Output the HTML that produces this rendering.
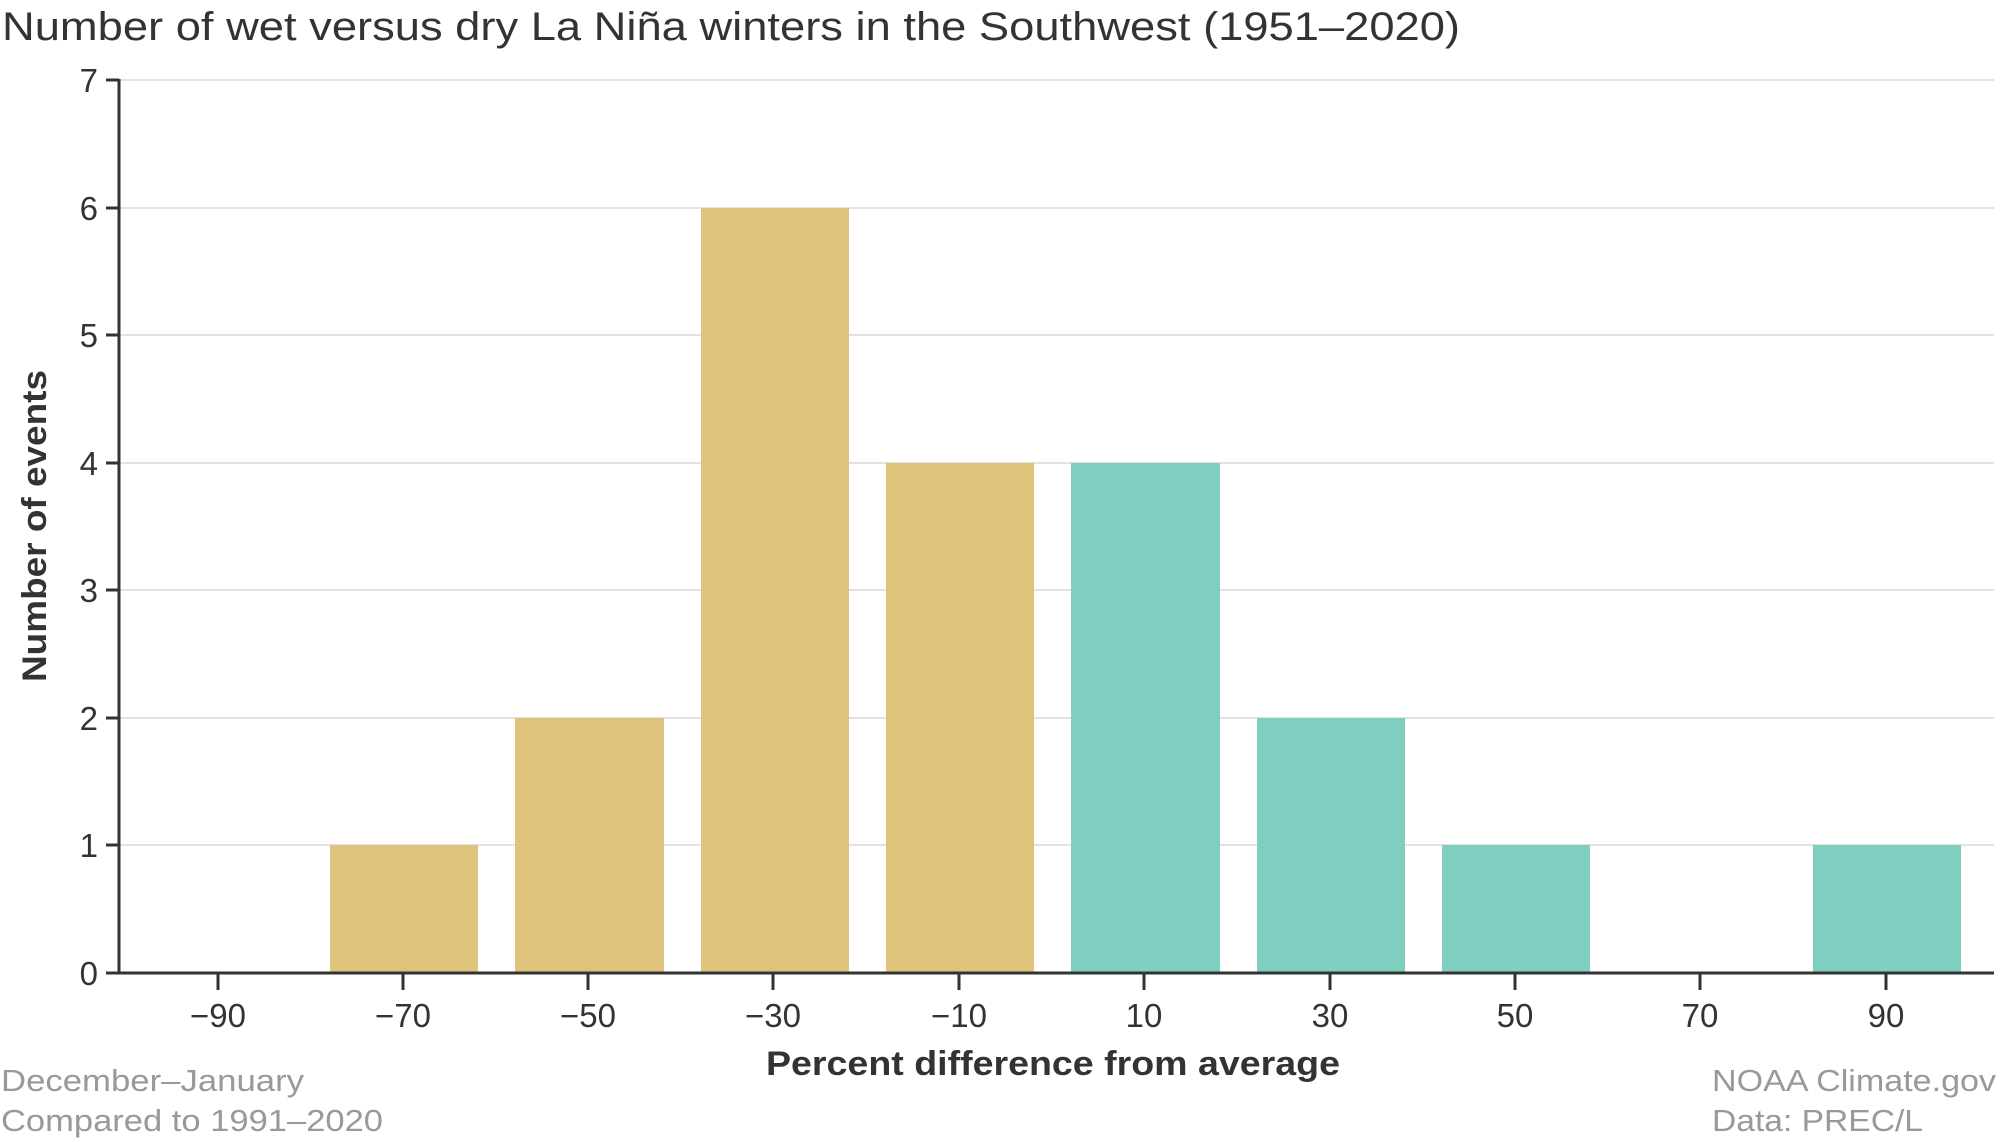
<!DOCTYPE html>
<html><head><meta charset="utf-8"><style>
html,body{margin:0;padding:0;background:#fff;}
svg{display:block;font-family:"Liberation Sans",sans-serif;}
</style></head><body>
<svg width="2000" height="1142" viewBox="0 0 2000 1142">
<text x="2" y="40" font-size="40" fill="#333" textLength="1458" lengthAdjust="spacingAndGlyphs">Number of wet versus dry La Niña winters in the Southwest (1951–2020)</text>
<g stroke="#d9d9d9" stroke-width="1.5">
<line x1="119" y1="80" x2="1994" y2="80"/>
<line x1="119" y1="208" x2="1994" y2="208"/>
<line x1="119" y1="335" x2="1994" y2="335"/>
<line x1="119" y1="463" x2="1994" y2="463"/>
<line x1="119" y1="590" x2="1994" y2="590"/>
<line x1="119" y1="718" x2="1994" y2="718"/>
<line x1="119" y1="845" x2="1994" y2="845"/>
</g>
<g fill="#dfc37d">
<rect x="330" y="845" width="148" height="127"/>
<rect x="515" y="718" width="149" height="254"/>
<rect x="701" y="208" width="148" height="764"/>
<rect x="886" y="463" width="148" height="509"/>
</g>
<g fill="#7fcfc0">
<rect x="1071" y="463" width="149" height="509"/>
<rect x="1257" y="718" width="148" height="254"/>
<rect x="1442" y="845" width="148" height="127"/>
<rect x="1813" y="845" width="148" height="127"/>
</g>
<g stroke="#333" stroke-width="3">
<line x1="119" y1="79" x2="119" y2="973"/>
<line x1="106" y1="973" x2="1994" y2="973"/>
<line x1="106" y1="80" x2="119" y2="80"/>
<line x1="106" y1="208" x2="119" y2="208"/>
<line x1="106" y1="335" x2="119" y2="335"/>
<line x1="106" y1="463" x2="119" y2="463"/>
<line x1="106" y1="590" x2="119" y2="590"/>
<line x1="106" y1="718" x2="119" y2="718"/>
<line x1="106" y1="845" x2="119" y2="845"/>
<line x1="218" y1="973" x2="218" y2="990"/>
<line x1="403" y1="973" x2="403" y2="990"/>
<line x1="588" y1="973" x2="588" y2="990"/>
<line x1="773" y1="973" x2="773" y2="990"/>
<line x1="959" y1="973" x2="959" y2="990"/>
<line x1="1144" y1="973" x2="1144" y2="990"/>
<line x1="1330" y1="973" x2="1330" y2="990"/>
<line x1="1515" y1="973" x2="1515" y2="990"/>
<line x1="1700" y1="973" x2="1700" y2="990"/>
<line x1="1886" y1="973" x2="1886" y2="990"/>
</g>
<g font-size="33" fill="#333" text-anchor="end">
<text x="98" y="92">7</text>
<text x="98" y="220">6</text>
<text x="98" y="347">5</text>
<text x="98" y="475">4</text>
<text x="98" y="602">3</text>
<text x="98" y="730">2</text>
<text x="98" y="857">1</text>
<text x="98" y="985">0</text>
</g>
<g font-size="33" fill="#333" text-anchor="middle">
<text x="218" y="1027">−90</text>
<text x="403" y="1027">−70</text>
<text x="588" y="1027">−50</text>
<text x="773" y="1027">−30</text>
<text x="959" y="1027">−10</text>
<text x="1144" y="1027">10</text>
<text x="1330" y="1027">30</text>
<text x="1515" y="1027">50</text>
<text x="1700" y="1027">70</text>
<text x="1886" y="1027">90</text>
</g>
<text x="766" y="1075" font-size="34" font-weight="bold" fill="#333" textLength="574" lengthAdjust="spacingAndGlyphs">Percent difference from average</text>
<text transform="translate(46,682) rotate(-90)" font-size="34" font-weight="bold" fill="#333" textLength="312" lengthAdjust="spacingAndGlyphs">Number of events</text>
<g font-size="31" fill="#999">
<text x="1" y="1091" textLength="303" lengthAdjust="spacingAndGlyphs">December–January</text>
<text x="1" y="1131" textLength="382" lengthAdjust="spacingAndGlyphs">Compared to 1991–2020</text>
<text x="1712" y="1091" textLength="284" lengthAdjust="spacingAndGlyphs">NOAA Climate.gov</text>
<text x="1712" y="1131" textLength="211" lengthAdjust="spacingAndGlyphs">Data: PREC/L</text>
</g>
</svg>
</body></html>
